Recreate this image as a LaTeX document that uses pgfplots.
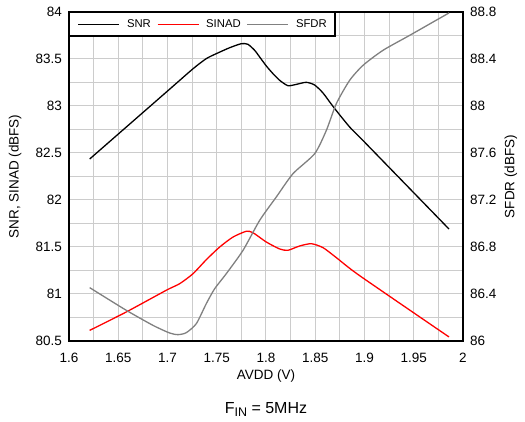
\documentclass[border=0pt]{standalone}
\usepackage{pgfplots}
\pgfplotsset{compat=1.18}
\usepackage{fontspec}
\setmainfont{Liberation Sans}
\definecolor{gridgray}{HTML}{CCCCCC}
\definecolor{sfdrgray}{HTML}{808080}
\begin{document}
\begin{tikzpicture}
\begin{axis}[
  at={(0pt,0pt)}, anchor=south west,
  scale only axis, width=394pt, height=329pt,
  xmin=1.6, xmax=2, ymin=80.5, ymax=84,
  clip=false,
  xtick={1.6,1.65,1.7,1.75,1.8,1.85,1.9,1.95,2},
  ytick={80.5,81,81.5,82,82.5,83,83.5,84},
  minor x tick num=1, minor y tick num=1,
  grid=both,
  major grid style={color=gridgray, line width=1pt},
  minor grid style={color=gridgray, line width=1pt},
  major tick length=0pt, minor tick length=0pt,
  axis line style={line width=2pt},
  /pgf/number format/assume math mode=true,
  tick label style={font=\fontsize{13.5}{16}\selectfont},
  xticklabel style={anchor=base, inner sep=0pt, yshift=-22pt},
  yticklabel style={anchor=east, inner sep=0pt, xshift=-7pt},
  xlabel={AVDD (V)},
  ylabel={SNR, SINAD (dBFS)},
  every axis x label/.style={at={(axis description cs:0.5,-0.1185)}, anchor=base, font=\fontsize{13.5}{16}\selectfont},
  every axis y label/.style={at={(axis description cs:-0.137,0.5)}, anchor=center, rotate=90, font=\fontsize{13.5}{16}\selectfont},
  legend columns=3,
  legend style={at={(0,1)}, anchor=north west, draw=black, line width=1.5pt, fill=white,
    inner xsep=8pt, inner ysep=7pt, font=\fontsize{11.3}{12}\selectfont,
    nodes={inner sep=0pt},
    /tikz/every odd column/.append style={column sep=7pt},
    /tikz/every even column/.append style={column sep=6pt}},
  legend image code/.code={\draw[#1] (0pt,0pt) -- (41pt,0pt);},
]
\addplot[black, line width=1.3pt, smooth, tension=0.4] coordinates {
(1.621,82.436) (1.700,83.159) (1.726,83.397) (1.7394,83.504) (1.7496,83.557)
(1.7631,83.620) (1.775,83.663) (1.7817,83.656) (1.7885,83.592) (1.7936,83.521)
(1.8003,83.426) (1.8071,83.344) (1.8139,83.273) (1.8223,83.216) (1.8308,83.230)
(1.8409,83.252) (1.8494,83.223) (1.8579,83.138) (1.868,82.996) (1.8849,82.777)
(1.9019,82.596) (1.9858,81.691)
};
\addlegendentry{SNR}
\addplot[red, line width=1.3pt, smooth, tension=0.4] coordinates {
(1.621,80.613) (1.6582,80.809) (1.6988,81.040) (1.7124,81.110) (1.7259,81.216)
(1.7394,81.365) (1.753,81.500) (1.7665,81.606) (1.780,81.667) (1.7868,81.652)
(1.8003,81.553) (1.8139,81.479) (1.8223,81.465) (1.8342,81.511) (1.846,81.535)
(1.8579,81.493) (1.8714,81.387) (1.8951,81.195) (1.9858,80.543)
};
\addlegendentry{SINAD}
\addlegendimage{sfdrgray, line width=1.3pt}
\addlegendentry{SFDR}
\node[anchor=base, font=\fontsize{16}{19}\selectfont] at (axis description cs:0.5,0) [yshift=-72.5pt]
  {F\raisebox{-0.35ex}{\fontsize{12.5}{14}\selectfont IN} = 5MHz};
\end{axis}
\begin{axis}[
  at={(0pt,0pt)}, anchor=south west,
  scale only axis, width=394pt, height=329pt,
  xmin=1.6, xmax=2, ymin=86, ymax=88.8,
  axis x line=none, axis y line*=right,
  ytick={86,86.4,86.8,87.2,87.6,88,88.4,88.8},
  yticklabels={86,86.4,86.8,87.2,87.6,88,88.4,88.8},
  major tick length=0pt,
  axis line style={line width=2pt, -},
  tick label style={font=\fontsize{13.5}{16}\selectfont},
  yticklabel style={anchor=west, inner sep=0pt, xshift=7pt},
  ylabel={SFDR (dBFS)},
  every axis y label/.style={at={(axis description cs:1.1218,0.5)}, anchor=center, rotate=90, font=\fontsize{13.5}{16}\selectfont},
]
\addplot[sfdrgray, line width=1.3pt, smooth, tension=0.4] coordinates {
(1.621,86.454) (1.6582,86.261) (1.6853,86.133) (1.7022,86.068) (1.7107,86.054)
(1.7191,86.071) (1.7293,86.148) (1.7394,86.318) (1.7479,86.445) (1.7597,86.573)
(1.7767,86.772) (1.7936,87.027) (1.8105,87.226) (1.8274,87.424) (1.8494,87.594)
(1.8613,87.793) (1.8714,88.020) (1.8849,88.218) (1.8985,88.346) (1.9188,88.474)
(1.9458,88.601) (1.9858,88.792)
};
\end{axis}
\pgfresetboundingbox
\path[use as bounding box] (-69pt,-81pt) rectangle (456pt,341pt);
\end{tikzpicture}
\end{document}
